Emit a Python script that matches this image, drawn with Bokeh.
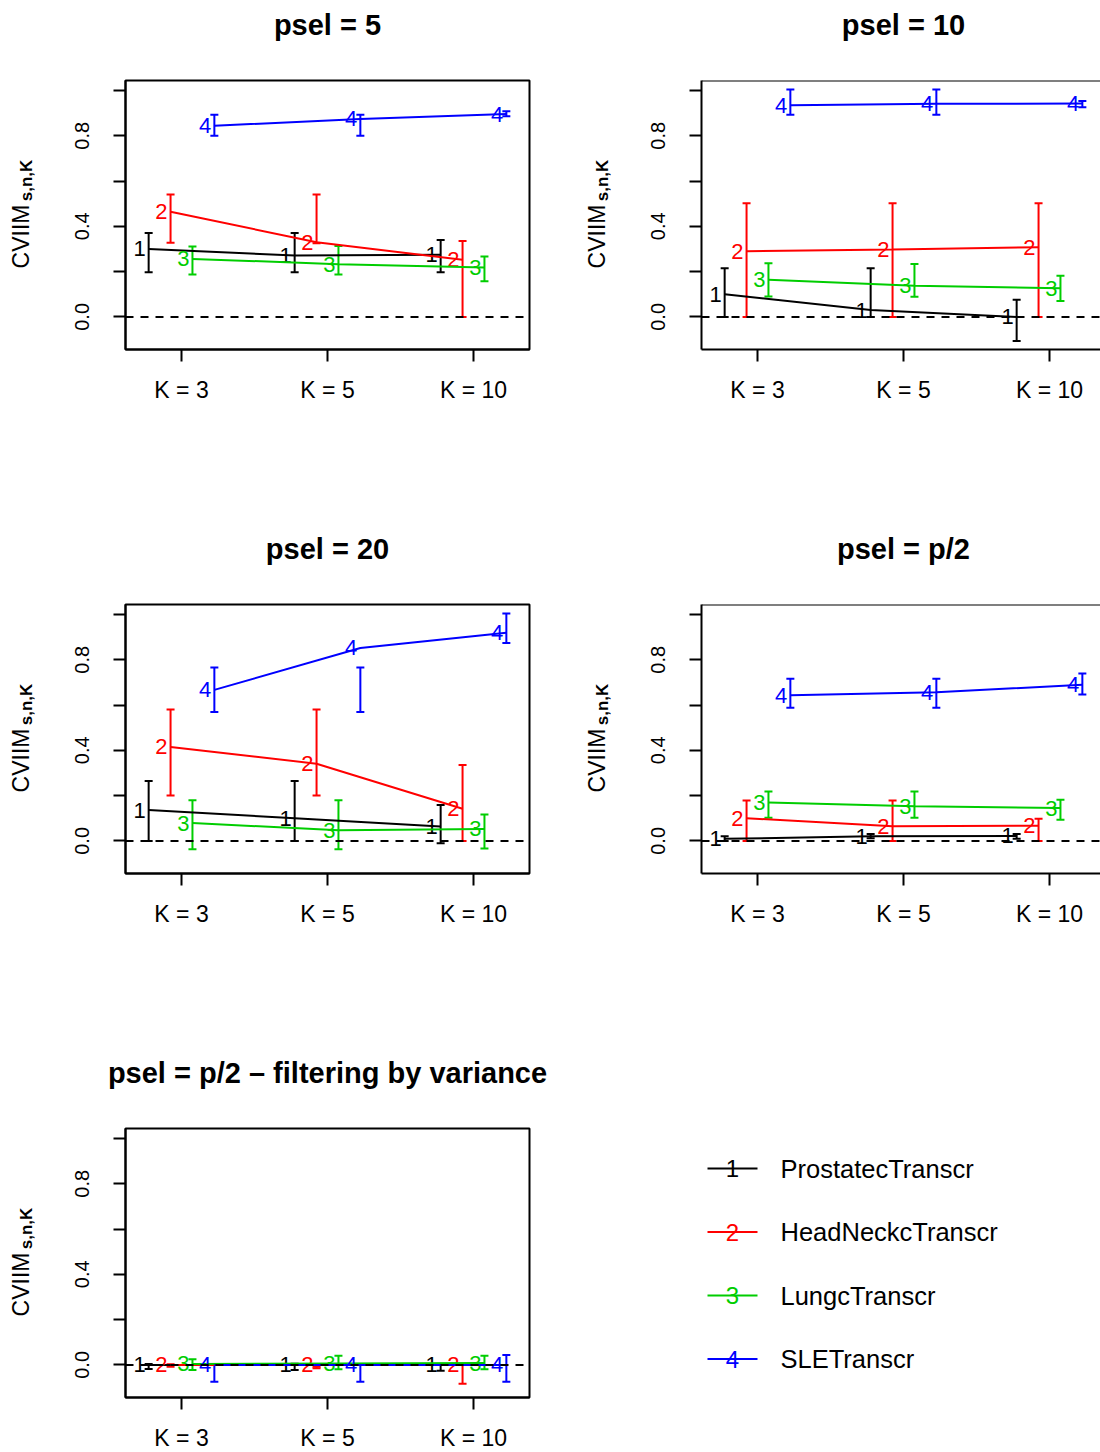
import numpy as np
from bokeh.plotting import figure
from bokeh.models import Range1d, FixedTicker, Whisker, TeeHead, ColumnDataSource, Span
from bokeh.layouts import column, row
from bokeh.embed import file_html
from bokeh.resources import INLINE
from bokeh.core.properties import value

# ---------------- data ----------------
series_names = ["ProstatecTranscr", "HeadNeckcTranscr", "LungcTranscr", "SLETranscr"]
series_colors = ["#000000", "#FF0000", "#00CD00", "#0000FF"]
k_labels = ["K = 3", "K = 5", "K = 10"]
panel_titles = ["psel = 5", "psel = 10", "psel = 20", "psel = p/2",
                "psel = p/2 \u2013 filtering by variance"]
y_tick_values = [0.0, 0.2, 0.4, 0.6, 0.8, 1.0]
y_tick_labels = ["0.0", "", "0.4", "", "0.8", ""]
y_label_main = "CVIIM"
y_label_sub = "s,n,K"

# psel = 5   (rows: series 1..4, columns: K = 3, 5, 10)
psel5_mean = [[0.300, 0.271, 0.274], [0.464, 0.330, 0.252], [0.256, 0.233, 0.218], [0.844, 0.874, 0.896]]
psel5_lower = [[0.197, 0.197, 0.197], [0.327, 0.325, 0.000], [0.187, 0.187, 0.157], [0.800, 0.800, 0.886]]
psel5_upper = [[0.370, 0.370, 0.340], [0.541, 0.541, 0.335], [0.311, 0.313, 0.267], [0.893, 0.893, 0.908]]

# psel = 10
psel10_mean = [[0.100, 0.030, 0.000], [0.290, 0.298, 0.308], [0.164, 0.138, 0.126], [0.935, 0.941, 0.942]]
psel10_lower = [[0.000, 0.000, -0.107], [0.000, 0.000, 0.000], [0.090, 0.089, 0.070], [0.893, 0.893, 0.926]]
psel10_upper = [[0.215, 0.215, 0.076], [0.502, 0.502, 0.502], [0.237, 0.234, 0.182], [1.004, 1.004, 0.953]]

# psel = 20
psel20_mean = [[0.136, 0.100, 0.064], [0.415, 0.341, 0.142], [0.079, 0.047, 0.053], [0.667, 0.852, 0.919]]
psel20_lower = [[0.000, 0.000, -0.010], [0.200, 0.200, 0.000], [-0.037, -0.037, -0.034], [0.569, 0.569, 0.874]]
psel20_upper = [[0.265, 0.265, 0.158], [0.580, 0.580, 0.335], [0.180, 0.180, 0.117], [0.766, 0.766, 1.004]]

# psel = p/2
pselhalf_mean = [[0.009, 0.020, 0.022], [0.100, 0.065, 0.067], [0.170, 0.153, 0.145], [0.643, 0.656, 0.690]]
pselhalf_lower = [[0.000, 0.012, 0.009], [0.000, 0.000, 0.000], [0.102, 0.102, 0.093], [0.588, 0.588, 0.647]]
pselhalf_upper = [[0.020, 0.030, 0.030], [0.178, 0.178, 0.098], [0.218, 0.218, 0.182], [0.716, 0.716, 0.739]]

# psel = p/2 - filtering by variance
pselvar_mean = [[0.000, 0.000, 0.000], [0.000, 0.000, 0.002], [0.004, 0.006, 0.008], [0.000, 0.000, 0.000]]
pselvar_lower = [[-0.018, -0.022, -0.026], [-0.008, -0.015, -0.083], [-0.022, -0.019, -0.019], [-0.074, -0.074, -0.074]]
pselvar_upper = [[0.004, 0.005, 0.003], [0.003, -0.008, 0.000], [0.025, 0.040, 0.040], [0.003, 0.000, 0.044]]

# ---------------- layout / style ----------------
FONT = "Liberation Sans"
SERIES_OFFSETS = [-0.225, -0.075, 0.075, 0.225]
PX_PER_X = 146.0
X_START = 0.6164
Y_RANGE = (-0.144, 1.044)
FRAME_H = 269
TITLE_H = 60
TOP_B = 20
LABEL_W = 50
COMMON = dict(output_backend="svg", toolbar_location=None, tools="")


def blank_fig(w, h, top, bottom, left=0, right=0):
    p = figure(frame_width=w, frame_height=h,
               x_range=Range1d(0, w), y_range=Range1d(0, h),
               x_axis_type=None, y_axis_type=None,
               min_border_left=left, min_border_right=right,
               min_border_top=top, min_border_bottom=bottom, **COMMON)
    p.grid.visible = False
    p.outline_line_color = None
    p.background_fill_color = "white"
    p.border_fill_color = "white"
    return p


def title_fig(cell_w, title):
    t = blank_fig(cell_w, TITLE_H, 0, 0)
    if title:
        t.text(x=[327], y=[TITLE_H - 24], text=[title], text_font=value(FONT), text_font_size="29px",
               text_font_style="bold", text_align="center", text_baseline="alphabetic", text_color="black")
    return t


def label_fig(bottom, with_text):
    lf = blank_fig(LABEL_W, FRAME_H, TOP_B, bottom)
    if with_text:
        lf.text(x=[20], y=[113], text=[y_label_main], angle=np.pi / 2, text_font=value(FONT),
                text_font_size="23px", text_align="center", text_baseline="alphabetic", text_color="black")
        lf.text(x=[26], y=[169], text=[y_label_sub], angle=np.pi / 2, text_font=value(FONT),
                text_font_size="17px", text_font_style="bold", text_align="center",
                text_baseline="alphabetic", text_color="black")
    return lf


def panel_fig(means, lowers, uppers, col, bottom):
    frame_w = 404 if col == 0 else 399
    p = figure(frame_width=frame_w, frame_height=FRAME_H,
               x_range=Range1d(X_START, X_START + frame_w / PX_PER_X),
               y_range=Range1d(*Y_RANGE),
               min_border_left=75, min_border_right=(47 if col == 0 else 0),
               min_border_top=TOP_B, min_border_bottom=bottom, **COMMON)
    p.grid.visible = False
    p.background_fill_color = "white"
    p.border_fill_color = "white"
    if col == 0:
        p.outline_line_color = "black"
        p.outline_line_width = 2
        p.outline_line_alpha = 1.0
    else:
        p.outline_line_color = None
        p.add_layout(Span(location=Y_RANGE[1], dimension="width", line_color="black", line_width=2))

    for ax in (p.xaxis[0], p.yaxis[0]):
        ax.axis_line_width = 2
        ax.axis_line_color = "black"
        ax.major_tick_line_width = 2
        ax.major_tick_line_color = "black"
        ax.major_tick_out = 12
        ax.major_tick_in = 0
        ax.minor_tick_line_color = None
        ax.major_label_text_font = FONT
        ax.major_label_text_color = "black"
    p.xaxis.ticker = FixedTicker(ticks=[1, 2, 3])
    p.xaxis.major_label_overrides = {i + 1: lab for i, lab in enumerate(k_labels)}
    p.xaxis.major_label_text_font_size = "23px"
    p.xaxis.major_label_standoff = 15
    p.yaxis.ticker = FixedTicker(ticks=y_tick_values)
    p.yaxis.major_label_overrides = {v: lab for v, lab in zip(y_tick_values, y_tick_labels)}
    p.yaxis.major_label_text_font_size = "20px"
    p.yaxis.major_label_orientation = "vertical"
    p.yaxis.major_label_standoff = 24

    for s in range(4):
        xs = [k + 1 + SERIES_OFFSETS[s] for k in range(len(k_labels))]
        src = ColumnDataSource(dict(x=xs, m=means[s], lo=lowers[s], up=uppers[s],
                                    lab=[str(s + 1)] * len(xs)))
        c = series_colors[s]
        p.line("x", "m", source=src, line_color=c, line_width=2)
        p.add_layout(Whisker(source=src, base="x", lower="lo", upper="up", dimension="height",
                             line_color=c, line_width=2,
                             upper_head=TeeHead(size=8, line_color=c, line_width=2),
                             lower_head=TeeHead(size=8, line_color=c, line_width=2)))
        p.text("x", "m", text="lab", source=src, text_color=c, text_font=value(FONT),
               text_font_size="22px", text_align="right", text_baseline="middle", x_offset=-3)

    p.add_layout(Span(location=0, dimension="width", line_color="black", line_width=2,
                      line_dash="8 7"))
    return p


def make_cell(title, means, lowers, uppers, col, row_idx):
    cell_w = 576 if col == 0 else 524
    cell_h = 524 if row_idx < 2 else 404
    bottom = cell_h - TITLE_H - TOP_B - FRAME_H
    return column(title_fig(cell_w, title),
                  row(label_fig(bottom, True), panel_fig(means, lowers, uppers, col, bottom)))


def legend_cell():
    cell_w, cell_h = 524, 404
    bottom = cell_h - TITLE_H - TOP_B - FRAME_H
    lw = 399
    lg = blank_fig(lw, FRAME_H, TOP_B, bottom, left=75, right=0)
    leg_y = [229 - i * 63.5 for i in range(len(series_names))]
    src = ColumnDataSource(dict(y=leg_y, x0=[6] * 4, x1=[56] * 4, xn=[31] * 4, xt=[79] * 4,
                                c=series_colors, num=[str(i + 1) for i in range(4)], name=series_names))
    lg.segment("x0", "y", "x1", "y", source=src, line_color="c", line_width=2)
    lg.text("xn", "y", text="num", source=src, text_color="c", text_font=value(FONT),
            text_font_size="24px", text_align="center", text_baseline="middle")
    lg.text("xt", "y", text="name", source=src, text_color="black", text_font=value(FONT),
            text_font_size="25.5px", text_align="left", text_baseline="middle")
    return column(title_fig(cell_w, ""), row(label_fig(bottom, False), lg))


c1 = make_cell(panel_titles[0], psel5_mean, psel5_lower, psel5_upper, 0, 0)
c2 = make_cell(panel_titles[1], psel10_mean, psel10_lower, psel10_upper, 1, 0)
c3 = make_cell(panel_titles[2], psel20_mean, psel20_lower, psel20_upper, 0, 1)
c4 = make_cell(panel_titles[3], pselhalf_mean, pselhalf_lower, pselhalf_upper, 1, 1)
c5 = make_cell(panel_titles[4], pselvar_mean, pselvar_lower, pselvar_upper, 0, 2)
c6 = legend_cell()

layout = column(row(c1, c2), row(c3, c4), row(c5, c6))
open("out.html", "w").write(file_html(layout, INLINE))
